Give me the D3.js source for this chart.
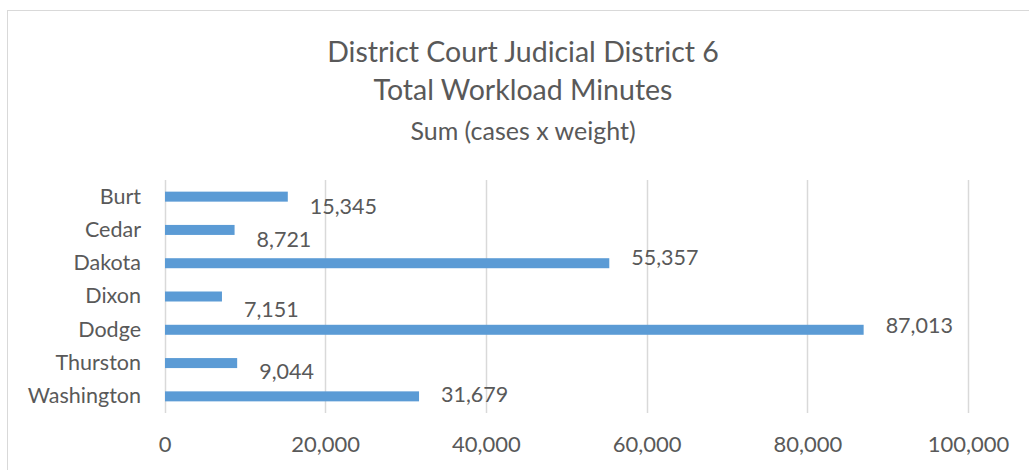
<!DOCTYPE html>
<html><head><meta charset="utf-8">
<script src="https://cdn.jsdelivr.net/npm/d3@7"></script>
<style>body{margin:0;background:#fff}svg{display:block}text{font-family:Lato,"Open Sans",sans-serif;fill:#595959}</style>
</head><body><svg id="c" width="1029" height="470"></svg>
<script>
const categories = ["Burt","Cedar","Dakota","Dixon","Dodge","Thurston","Washington"];
const values = [15345, 8721, 55357, 7151, 87013, 9044, 31679];
const xTicks = [0, 20000, 40000, 60000, 80000, 100000];
const titleLines = ["District Court Judicial District 6","Total Workload Minutes","Sum (cases x weight)"];
// label vertical nudges (layout, as in the reference)
const labelDy = [10, 10, -6, 13, -4, 8, -2];

const svg = d3.select("#c");
svg.append("rect").attr("x",7.5).attr("y",10.5).attr("width",1100).attr("height",600)
  .attr("fill","#fff").attr("stroke","#d9d9d9").attr("stroke-width",1);

const x = d3.scaleLinear().domain([0,100000]).range([164.5,968]);
const y = d3.scaleBand().domain(categories).range([180,413]).paddingInner(0.7).paddingOuter(0.35);

const tsz=[28.5,28.5,25], ty=[62,100,140];
titleLines.forEach((t,i)=>svg.append("text").attr("x",523).attr("y",ty[i]).attr("text-anchor","middle")
  .style("font-size",tsz[i]+"px").text(t));

svg.append("g").selectAll("line").data(xTicks).join("line")
  .attr("x1",d=>Math.round(x(d))+0.5).attr("x2",d=>Math.round(x(d))+0.5)
  .attr("y1",180).attr("y2",413).attr("stroke","#d9d9d9").attr("stroke-width",1.5);

const xa = svg.append("g").attr("transform","translate(0,433)")
  .call(d3.axisBottom(x).tickValues(xTicks).tickFormat(d3.format(",")).tickSize(0));
xa.select(".domain").remove();
xa.selectAll("text").attr("dy","0.71em").style("font-size","22px").style("font-family","Lato,sans-serif").attr("fill","#595959");

const ya = svg.append("g").attr("transform","translate(141,0)")
  .call(d3.axisLeft(y).tickSize(0).tickPadding(0));
ya.select(".domain").remove();
ya.selectAll("text").style("font-size","21.5px").style("font-family","Lato,sans-serif").attr("fill","#595959");

const bh = 10;
svg.append("g").selectAll("rect").data(values).join("rect")
  .attr("x",x(0)+0.5).attr("y",(d,i)=>y(categories[i])+y.bandwidth()/2-bh/2)
  .attr("width",d=>x(d)-x(0)-0.5).attr("height",bh).attr("fill","#5b9bd5");

svg.append("g").selectAll("text").data(values).join("text")
  .attr("x",d=>x(d)+22).attr("y",(d,i)=>y(categories[i])+y.bandwidth()/2+labelDy[i])
  .attr("dy","0.35em").style("font-size","21.5px").text(d=>d3.format(",")(d));
</script></body></html>
